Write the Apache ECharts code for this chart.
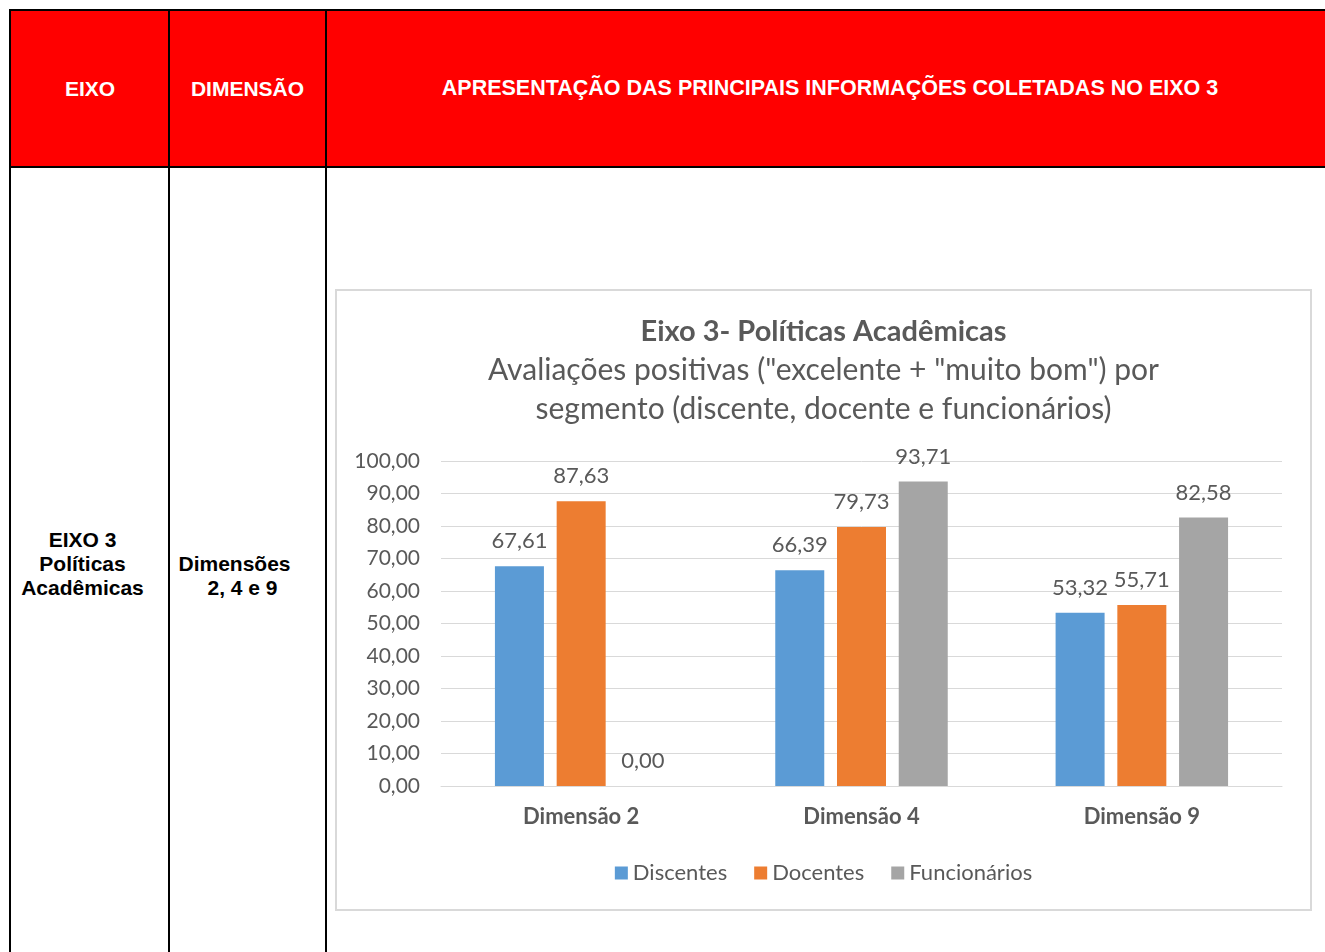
<!DOCTYPE html>
<html>
<head>
<meta charset="utf-8">
<script src="https://cdn.jsdelivr.net/npm/echarts@6/dist/echarts.min.js"></script>
<style>
  html, body { margin: 0; padding: 0; background: #fff; }
  body { width: 1325px; height: 952px; position: relative; overflow: hidden; font-family: "Liberation Sans", Arial, sans-serif; }
  .cell { position: absolute; box-sizing: border-box; }
  .head { background: #ff0000; color: #fff; font-weight: bold; font-size: 21px; display: flex; align-items: center; justify-content: center; }
  .vline { position: absolute; background: #000; width: 2px; }
  .hline { position: absolute; background: #000; height: 2px; }
  .txt { position: absolute; font-weight: bold; font-size: 21px; color: #000; line-height: 24px; text-align: center; }
  #chart { position: absolute; left: 335px; top: 289px; width: 977px; height: 622px; box-sizing: border-box; border: 2px solid #d9d9d9; }
</style>
</head>
<body>
  <!-- cabeçalho vermelho -->
  <div class="cell head" style="left:11px; top:11px; width:158px; height:155px;">EIXO</div>
  <div class="cell head" style="left:170px; top:11px; width:155px; height:155px;">DIMENSÃO</div>
  <div class="cell head" style="left:327px; top:11px; width:998px; height:155px; padding-left:8px; font-size:21.5px;">APRESENTAÇÃO DAS PRINCIPAIS INFORMAÇÕES COLETADAS NO EIXO 3</div>

  <!-- bordas da tabela -->
  <div class="hline" style="left:9px; top:9px; width:1316px;"></div>
  <div class="hline" style="left:9px; top:166px; width:1316px;"></div>
  <div class="vline" style="left:9px; top:9px; height:943px;"></div>
  <div class="vline" style="left:168px; top:9px; height:943px;"></div>
  <div class="vline" style="left:325px; top:9px; height:943px;"></div>

  <!-- corpo -->
  <div class="txt" style="left:11px; top:528px; width:143px;">EIXO 3<br>Políticas<br>Acadêmicas</div>
  <div class="txt" style="left:176px; top:552px; width:117px;">Dimensões<br><span style="padding-left:16px">2, 4 e 9</span></div>

  <div id="chart"></div>

<script>
// dados
const categorias = ['Dimensão 2', 'Dimensão 4', 'Dimensão 9']
const discentes = [67.61, 66.39, 53.32]
const docentes = [87.63, 79.73, 55.71]
const funcionarios = [0.00, 93.71, 82.58]
const ticksY = [0, 10, 20, 30, 40, 50, 60, 70, 80, 90, 100]

const fonte = 'Lato, "Open Sans", sans-serif'
const cinzaTexto = '#595959'
const barWidth = 49

function fmt (v) {
  return Number(v).toFixed(2).replace('.', ',')
}

const chart = echarts.init(document.getElementById('chart'))

function serie (nome, dados, cor) {
  return {
    name: nome,
    type: 'bar',
    data: dados,
    barWidth: barWidth,
    barGap: '26%',
    itemStyle: { color: cor },
    label: {
      show: true,
      position: 'top',
      distance: 14,
      formatter: p => fmt(p.value),
      color: cinzaTexto,
      fontSize: 22,
      fontFamily: fonte
    }
  }
}

const estiloSub = { fontSize: 30, fontWeight: 'normal', color: cinzaTexto, fontFamily: fonte, lineHeight: 39 }

const option = {
  backgroundColor: '#fff',
  animation: false,
  title: [{
    text: 'Eixo 3- Políticas Acadêmicas',
    left: 'center',
    top: 20,
    textStyle: { fontSize: 29, fontWeight: 'bold', color: cinzaTexto, fontFamily: fonte, lineHeight: 32 }
  }, {
    text: 'Avaliações positivas ("excelente + "muito bom") por',
    left: 'center',
    top: 55,
    textStyle: estiloSub
  }, {
    text: 'segmento (discente, docente e funcionários)',
    left: 'center',
    top: 94,
    textStyle: estiloSub
  }],
  legend: {
    data: ['Discentes', 'Docentes', 'Funcionários'],
    left: 'center',
    top: 566,
    icon: 'rect',
    itemWidth: 13,
    itemHeight: 13,
    itemGap: 27,
    textStyle: { fontSize: 22, color: cinzaTexto, fontFamily: fonte }
  },
  grid: {
    left: 104,
    right: 28,
    top: 170,
    bottom: 123,
    containLabel: false
  },
  xAxis: {
    type: 'category',
    data: categorias,
    axisTick: { show: false },
    axisLine: { lineStyle: { color: '#d9d9d9', width: 1 } },
    axisLabel: { color: cinzaTexto, fontSize: 22, fontWeight: 'bold', fontFamily: fonte, margin: 20 }
  },
  yAxis: {
    type: 'value',
    min: ticksY[0],
    max: ticksY[ticksY.length - 1],
    interval: 10,
    axisLine: { show: false },
    axisTick: { show: false },
    splitLine: { lineStyle: { color: '#d9d9d9', width: 1 } },
    axisLabel: { color: cinzaTexto, fontSize: 21, fontFamily: fonte, margin: 21, formatter: v => fmt(v) }
  },
  series: [
    serie('Discentes', discentes, '#5b9bd5'),
    serie('Docentes', docentes, '#ed7d31'),
    serie('Funcionários', funcionarios, '#a5a5a5')
  ]
}

chart.setOption(option)
</script>
</body>
</html>
